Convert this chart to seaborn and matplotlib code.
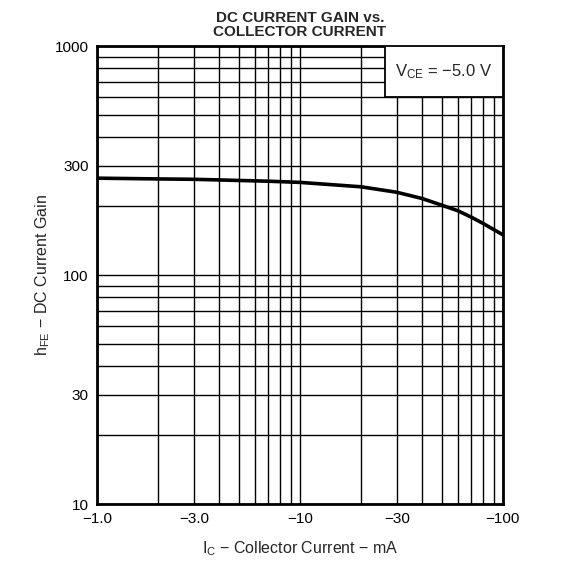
import numpy as np
import pandas as pd
import matplotlib
matplotlib.use("Agg")
import matplotlib.pyplot as plt
from matplotlib.ticker import FixedLocator, NullFormatter
import seaborn as sns

sns.set_theme(style="white")
plt.rcParams['font.family'] = ['Liberation Sans', 'DejaVu Sans']
plt.rcParams['mathtext.fontset'] = 'custom'
plt.rcParams['mathtext.rm'] = 'Liberation Sans'

# collector current magnitude (mA, shown as negative values) and DC gain
ic_ma = [1, 2, 3, 5, 7, 10, 20, 30, 40, 50, 60, 70, 80, 100]
hfe = [265, 263, 262, 259, 257, 254, 243, 230, 216, 202, 191, 179, 168, 150]

x_ticks = [1, 3, 10, 30, 100]
x_labels = ["\u22121.0", "\u22123.0", "\u221210", "\u221230", "\u2212100"]
y_ticks = [10, 30, 100, 300, 1000]
y_labels = ["10", "30", "100", "300", "1000"]

df = pd.DataFrame({"ic": ic_ma, "hfe": hfe})

fig = plt.figure(figsize=(5.84, 5.62), dpi=100)
ax = fig.add_axes([0.166, 0.103, 0.695, 0.815])

sns.lineplot(data=df, x="ic", y="hfe", ax=ax, color="black", linewidth=2.6, zorder=5)

ax.set_xscale("log")
ax.set_yscale("log")
ax.set_xlim(1, 100)
ax.set_ylim(10, 1000)

minor_x = [m * d for d in (1, 10) for m in range(2, 10)]
minor_y = [m * d for d in (10, 100) for m in range(2, 10)]
ax.xaxis.set_major_locator(FixedLocator(x_ticks))
ax.xaxis.set_minor_locator(FixedLocator(minor_x))
ax.yaxis.set_major_locator(FixedLocator(y_ticks))
ax.yaxis.set_minor_locator(FixedLocator(minor_y))
ax.set_xticklabels(x_labels)
ax.set_yticklabels(y_labels)
ax.xaxis.set_minor_formatter(NullFormatter())
ax.yaxis.set_minor_formatter(NullFormatter())

ax.grid(True, which="both", color="black", linewidth=1.0)
ax.tick_params(which="both", length=0, labelsize=11, colors="black", pad=6)

for s in ax.spines.values():
    s.set_color("black")
    s.set_linewidth(2.0)

ax.set_xlabel(r"$\mathregular{I_C}$ $-$ Collector Current $-$ mA", fontsize=11.5, labelpad=9)
ax.set_ylabel(r"$\mathregular{h_{FE}}$ $-$ DC Current Gain", fontsize=11.5, labelpad=2)
ax.set_title("DC CURRENT GAIN vs.\nCOLLECTOR CURRENT", fontsize=11,
             fontweight="bold", linespacing=1.0, pad=7)

# condition label in a white box over the grid, top right corner
box = plt.Rectangle((0.71, 0.889), 0.29, 0.111, transform=ax.transAxes,
                    facecolor="white", edgecolor="black", linewidth=1.3, zorder=6)
ax.add_patch(box)
ax.text(0.855, 0.944, r"$\mathregular{V_{CE}}$ = $-$5.0 V", transform=ax.transAxes,
        ha="center", va="center", fontsize=12, zorder=7)

fig.savefig("out.png", dpi=100)
